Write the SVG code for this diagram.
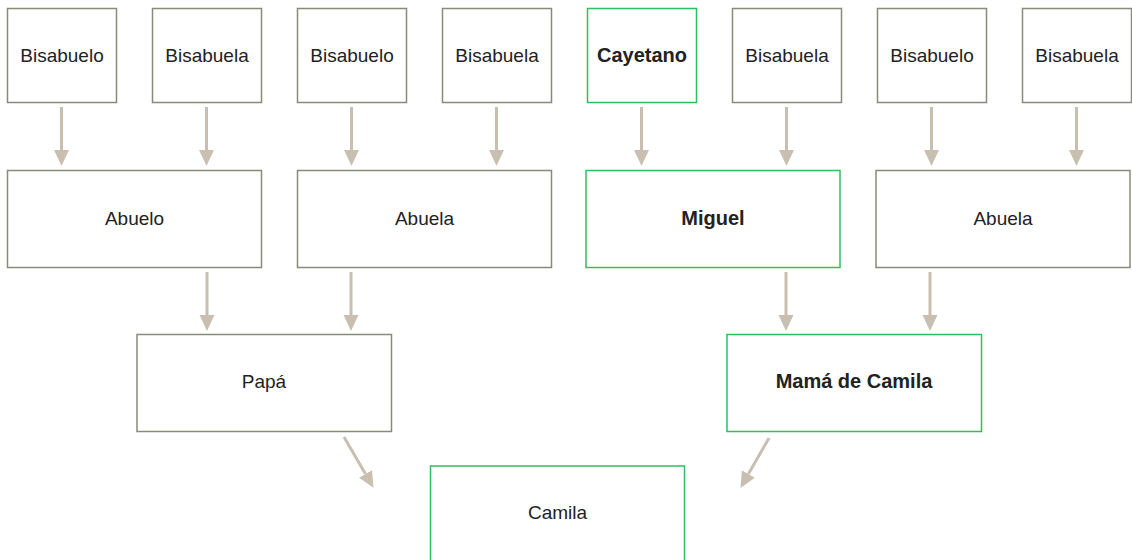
<svg xmlns="http://www.w3.org/2000/svg" width="1132" height="560" viewBox="0 0 1132 560">
<style>
.box{fill:#fff;stroke:#8a8a78;stroke-width:1.5}
.hl{fill:#fff;stroke:#2fbf5f;stroke-width:1.5}
text{font-family:"Liberation Sans",Arial,sans-serif;font-size:19px;fill:#222;text-anchor:middle}
.b{font-weight:bold;font-size:20px}
.c{stroke:#c9bfb1;stroke-width:3;fill:none}
</style>
<defs>
<marker id="ah" markerUnits="userSpaceOnUse" markerWidth="16" markerHeight="16" viewBox="0 0 15 14" refX="0" refY="7" orient="auto">
<path d="M0,0 L15,7 L0,14 z" fill="#c9bfb1"/>
</marker>
</defs>
<g id="connectors">
<path class="c" d="M61.5,107 V150" marker-end="url(#ah)"/>
<path class="c" d="M206.5,107 V150" marker-end="url(#ah)"/>
<path class="c" d="M351.5,107 V150" marker-end="url(#ah)"/>
<path class="c" d="M496.5,107 V150" marker-end="url(#ah)"/>
<path class="c" d="M641.5,107 V150" marker-end="url(#ah)"/>
<path class="c" d="M786.5,107 V150" marker-end="url(#ah)"/>
<path class="c" d="M931.5,107 V150" marker-end="url(#ah)"/>
<path class="c" d="M1076.5,107 V150" marker-end="url(#ah)"/>
<path class="c" d="M207,272 V315" marker-end="url(#ah)"/>
<path class="c" d="M351,272 V315" marker-end="url(#ah)"/>
<path class="c" d="M786,272 V315" marker-end="url(#ah)"/>
<path class="c" d="M930,272 V315" marker-end="url(#ah)"/>
<path class="c" d="M344,437 L365.5,474" marker-end="url(#ah)"/>
<path class="c" d="M769,438 L748.4,474" marker-end="url(#ah)"/>
</g>
<g id="n1"><rect class="box" x="7.5" y="8.5" width="109" height="94"/><text x="62" y="61.5">Bisabuelo</text></g>
<g id="n2"><rect class="box" x="152.5" y="8.5" width="109" height="94"/><text x="207" y="61.5">Bisabuela</text></g>
<g id="n3"><rect class="box" x="297.5" y="8.5" width="109" height="94"/><text x="352" y="61.5">Bisabuelo</text></g>
<g id="n4"><rect class="box" x="442.5" y="8.5" width="109" height="94"/><text x="497" y="61.5">Bisabuela</text></g>
<g id="n5"><rect class="hl" x="587.5" y="8.5" width="109" height="94"/><text class="b" x="642" y="61.5">Cayetano</text></g>
<g id="n6"><rect class="box" x="732.5" y="8.5" width="109" height="94"/><text x="787" y="61.5">Bisabuela</text></g>
<g id="n7"><rect class="box" x="877.5" y="8.5" width="109" height="94"/><text x="932" y="61.5">Bisabuelo</text></g>
<g id="n8"><rect class="box" x="1022.5" y="8.5" width="109" height="94"/><text x="1077" y="61.5">Bisabuela</text></g>
<g id="abuelo"><rect class="box" x="7.5" y="170.5" width="254" height="97"/><text x="134.5" y="224.5">Abuelo</text></g>
<g id="abuela1"><rect class="box" x="297.5" y="170.5" width="254" height="97"/><text x="424.5" y="224.5">Abuela</text></g>
<g id="miguel"><rect class="hl" x="586" y="170.5" width="254" height="97"/><text class="b" x="713" y="224.5">Miguel</text></g>
<g id="abuela2"><rect class="box" x="876" y="170.5" width="254" height="97"/><text x="1003" y="224.5">Abuela</text></g>
<g id="papa"><rect class="box" x="137" y="334.5" width="254.5" height="97"/><text x="264" y="388">Papá</text></g>
<g id="mama"><rect class="hl" x="727" y="334.5" width="254.5" height="97"/><text class="b" x="854" y="388">Mamá de Camila</text></g>
<g id="camila"><rect class="hl" x="430.5" y="466" width="254" height="97"/><text x="557.5" y="519">Camila</text></g>
</svg>
